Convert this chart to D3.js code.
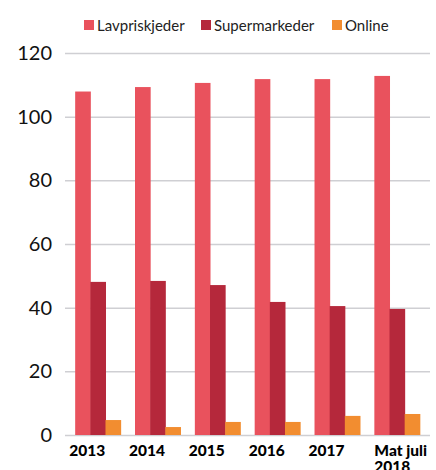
<!DOCTYPE html>
<html>
<head>
<meta charset="utf-8">
<script src="https://cdn.jsdelivr.net/npm/d3@7"></script>
<style>
  body { margin: 0; background: #fff; }
  text { font-family: Lato, "Open Sans", sans-serif; }
</style>
</head>
<body>
<div id="chart"></div>
<script>
const years = ["2013", "2014", "2015", "2016", "2017", "Mat juli|2018"];
const seriesNames = ["Lavpriskjeder", "Supermarkeder", "Online"];
const lavpris = [107.9, 109.3, 110.6, 111.8, 111.8, 112.8];
const supermarked = [48.1, 48.4, 47.1, 41.8, 40.5, 39.6];
const online = [4.7, 2.5, 4.1, 4.1, 6.0, 6.6];
const yTicks = [0, 20, 40, 60, 80, 100, 120];

const width = 436;
const height = 470;
const margin = { top: 53, right: 6, bottom: 35, left: 65 };
const colors = ["#e9525d", "#b5283b", "#f28d30"];

const svg = d3.select("#chart").append("svg")
    .attr("width", width)
    .attr("height", height);

const g = svg.append("g").attr("transform", `translate(${margin.left},${margin.top})`);
const innerW = width - margin.left - margin.right;
const innerH = height - margin.top - margin.bottom;

const x = d3.scaleBand().domain(years).range([0, innerW]).paddingInner(0.24).paddingOuter(0.17);
const x1 = d3.scaleBand().domain(seriesNames).range([0, x.bandwidth()]);
const y = d3.scaleLinear().domain([0, 120]).range([innerH, 0]);

// gridlines + y labels
const yAxis = g.append("g")
    .call(d3.axisLeft(y).tickValues(yTicks).tickSize(-innerW).tickPadding(13));
yAxis.select(".domain").remove();
yAxis.selectAll(".tick line").attr("stroke", "#cfcfd3").attr("stroke-width", 1.5);
yAxis.selectAll(".tick text")
    .attr("font-size", 20)
    .attr("fill", "#111")
    .style("font-family", "Lato, sans-serif");

const data = years.map((yr, i) => ({ year: yr, values: [lavpris[i], supermarked[i], online[i]] }));

g.selectAll(".group")
    .data(data)
    .enter().append("g")
    .attr("class", "group")
    .attr("transform", d => `translate(${x(d.year)},0)`)
    .selectAll("rect")
    .data(d => d.values.map((v, j) => ({ key: seriesNames[j], value: v, j })))
    .enter().append("rect")
    .attr("x", d => x1(d.key))
    .attr("width", x1.bandwidth() + 0.5)
    .attr("y", d => y(d.value))
    .attr("height", d => y(0) - y(d.value))
    .attr("fill", d => colors[d.j]);

// x labels (left aligned, "|" = line break)
const xl = g.append("g").attr("transform", `translate(0,${innerH})`);
years.forEach(yr => {
    const lines = yr.split("|");
    const lx = lines.length > 1 ? x(yr) : x(yr) - 6;
    const t = xl.append("text")
        .attr("y", 21)
        .attr("font-size", 15.5)
        .attr("font-weight", 900)
        .attr("fill", "#000");
    lines.forEach((line, k) => {
        t.append("tspan").attr("x", lx).attr("dy", k === 0 ? 0 : 16).text(line);
    });
});

// legend
const legendX = [84, 201, 332];
const legend = svg.append("g");
seriesNames.forEach((name, i) => {
    legend.append("rect")
        .attr("x", legendX[i]).attr("y", 20)
        .attr("width", 10).attr("height", 10)
        .attr("fill", colors[i]);
    legend.append("text")
        .attr("x", legendX[i] + 13).attr("y", 30.5)
        .attr("font-size", 15)
        .attr("fill", "#222")
        .text(name);
});
</script>
</body>
</html>
